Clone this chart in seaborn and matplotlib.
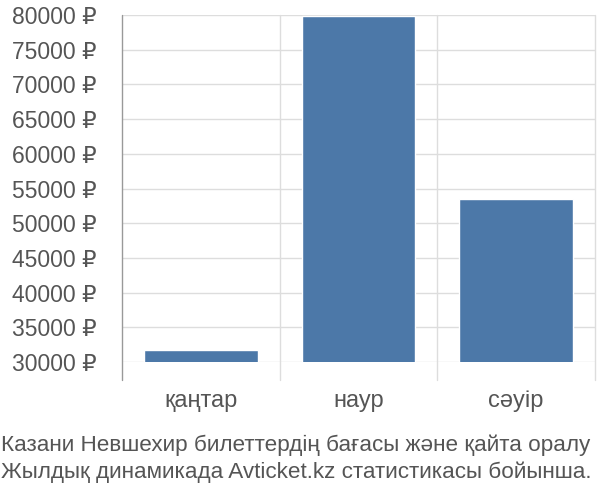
import numpy as np
import pandas as pd
import seaborn as sns
import matplotlib.pyplot as plt

months = ['қаңтар', 'наур', 'сәуір']
prices = [31700, 79900, 53450]
yticks = [30000, 35000, 40000, 45000, 50000, 55000, 60000, 65000, 70000, 75000, 80000]
caption = ['Казани Невшехир билеттердің бағасы және қайта оралу',
           'Жылдық динамикада Avticket.kz статистикасы бойынша.']

sns.set_style('white')
plt.rcParams['font.family'] = ['Liberation Sans', 'DejaVu Sans']

df = pd.DataFrame({'month': months, 'price': prices})

fig = plt.figure(figsize=(6, 5), dpi=100)
ax = fig.add_axes([122/600, 1-362/500, (595-122)/600, (362-15)/500])
sns.barplot(data=df, x='month', y='price', color='#4c78a8', saturation=1,
            width=0.72, ax=ax, zorder=3)

ax.set_ylim(30000, 80000)
ax.set_xlim(-0.5, 2.5)
ax.set_yticks(yticks)
ax.set_yticklabels([f'{v} ₽' for v in yticks], color='#555555', fontsize=16.5)
ax.tick_params(axis='y', length=16, color='#dddddd', width=1, pad=2)
ax.yaxis.grid(True, color='#dddddd', lw=1, zorder=0)

# category labels without ticks, boundary ticks as separators
ax.set_xticks(range(len(months)))
ax.set_xticklabels(months, color='#555555', fontsize=17)
ax.tick_params(axis='x', length=0, pad=20)
for i, xb in enumerate(np.arange(-0.5, len(months), 1.0)):
    ax.axvline(xb, ymin=-18/347, ymax=1, clip_on=False,
               color='#999999' if i == 0 else '#dddddd', lw=1, zorder=1)

for s in ax.spines.values():
    s.set_visible(False)
ax.set_xlabel('')
ax.set_ylabel('')

fig.text(1/600, 1-445/500, caption[0], fontsize=16.2, color='#555555', va='center', ha='left')
fig.text(1/600, 1-472/500, caption[1], fontsize=16.2, color='#555555', va='center', ha='left')

fig.savefig('out.png', dpi=100)
